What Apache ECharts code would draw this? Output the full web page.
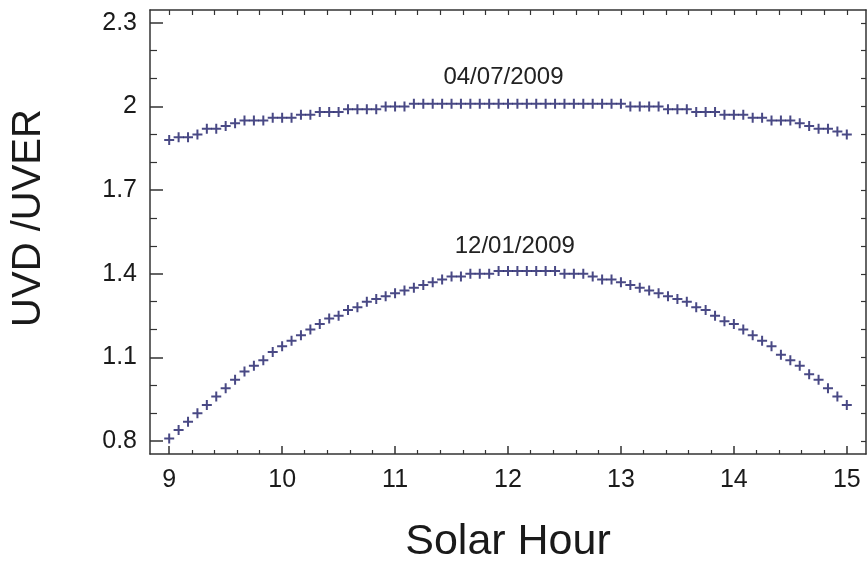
<!DOCTYPE html>
<html>
<head>
<meta charset="utf-8">
<style>
html, body { margin: 0; padding: 0; background: #fff; }
#chart { width: 868px; height: 569px; }
</style>
<script src="https://cdn.jsdelivr.net/npm/echarts@6/dist/echarts.min.js"></script>
</head>
<body>
<div id="chart"></div>
<script>
// solar time of each reading (every 5 min)
var times = [
  '9:00', '9:05', '9:10', '9:15', '9:20', '9:25', '9:30', '9:35', '9:40', '9:45', '9:50', '9:55',
  '10:00', '10:05', '10:10', '10:15', '10:20', '10:25', '10:30', '10:35', '10:40', '10:45', '10:50', '10:55',
  '11:00', '11:05', '11:10', '11:15', '11:20', '11:25', '11:30', '11:35', '11:40', '11:45', '11:50', '11:55',
  '12:00', '12:05', '12:10', '12:15', '12:20', '12:25', '12:30', '12:35', '12:40', '12:45', '12:50', '12:55',
  '13:00', '13:05', '13:10', '13:15', '13:20', '13:25', '13:30', '13:35', '13:40', '13:45', '13:50', '13:55',
  '14:00', '14:05', '14:10', '14:15', '14:20', '14:25', '14:30', '14:35', '14:40', '14:45', '14:50', '14:55',
  '15:00'
];

// 04/07/2009
var july = [
  1.88, 1.89, 1.89, 1.90, 1.92, 1.92, 1.93, 1.94, 1.95, 1.95, 1.95, 1.96,
  1.96, 1.96, 1.97, 1.97, 1.98, 1.98, 1.98, 1.99, 1.99, 1.99, 1.99, 2.00,
  2.00, 2.00, 2.01, 2.01, 2.01, 2.01, 2.01, 2.01, 2.01, 2.01, 2.01, 2.01,
  2.01, 2.01, 2.01, 2.01, 2.01, 2.01, 2.01, 2.01, 2.01, 2.01, 2.01, 2.01,
  2.01, 2.00, 2.00, 2.00, 2.00, 1.99, 1.99, 1.99, 1.98, 1.98, 1.98, 1.97,
  1.97, 1.97, 1.96, 1.96, 1.95, 1.95, 1.95, 1.94, 1.93, 1.92, 1.92, 1.91,
  1.90
];

// 12/01/2009
var jan = [
  0.81, 0.84, 0.87, 0.90, 0.93, 0.96, 0.99, 1.02, 1.05, 1.07, 1.09, 1.12,
  1.14, 1.16, 1.18, 1.20, 1.22, 1.24, 1.25, 1.27, 1.28, 1.30, 1.31, 1.32,
  1.33, 1.34, 1.35, 1.36, 1.37, 1.38, 1.39, 1.39, 1.40, 1.40, 1.40, 1.41,
  1.41, 1.41, 1.41, 1.41, 1.41, 1.41, 1.40, 1.40, 1.40, 1.39, 1.38, 1.38,
  1.37, 1.36, 1.35, 1.34, 1.33, 1.32, 1.31, 1.30, 1.28, 1.27, 1.25, 1.23,
  1.22, 1.20, 1.18, 1.16, 1.14, 1.11, 1.09, 1.07, 1.04, 1.02, 0.99, 0.96,
  0.93
];

var xTicks = [9, 10, 11, 12, 13, 14, 15];
var yTicks = [0.8, 1.1, 1.4, 1.7, 2, 2.3];
var notes = [
  ['04/07/2009', 11.96, 2.105],
  ['12/01/2009', 12.06, 1.50]
];

var X_MIN = 8.83, X_MAX = 15.17;
var Y_MIN = 0.754, Y_MAX = 2.346;

function toHour(t) {
  var p = t.split(':');
  return Number(p[0]) + Number(p[1]) / 60;
}
function pairs(vals) {
  return vals.map(function (v, i) { return [toHour(times[i]), v]; });
}

// tick helpers
var xMinor = [], xAll = [], yMinor = [], yAll = [];
for (var k = 45; k <= 75; k++) {
  var v = Math.round(k * 0.2 * 10) / 10;
  xAll.push(v);
  if (k % 5) xMinor.push(v);
}
for (var k = 8; k <= 23; k++) {
  var v = k / 10;
  yAll.push(v);
  if ((k - 8) % 3) yMinor.push(v);
}

var frame = { show: true, onZero: false, lineStyle: { color: '#333', width: 1.5 } };
var font = 'Liberation Sans, Arial, sans-serif';
var plus = 'path://M4,0H6V4H10V6H6V10H4V6H0V4H4Z';

function noteMark(n) {
  return {
    symbol: 'rect',
    symbolSize: 1,
    itemStyle: { color: 'rgba(0,0,0,0)' },
    label: { show: true, position: 'inside', formatter: '{b}', fontFamily: font, fontSize: 24, color: '#222' },
    data: [{ name: n[0], coord: [n[1], n[2]] }]
  };
}

var chart = echarts.init(document.getElementById('chart'));
var option = {
  animation: false,
  backgroundColor: '#fff',
  grid: { left: 150, right: 2, top: 10, bottom: 112 },
  graphic: [{
    type: 'text', x: 29, y: 218, rotation: Math.PI / 2,
    style: { text: 'UVD /UVER', fontFamily: font, fontSize: 40, fill: '#1a1a1a', align: 'center', verticalAlign: 'middle' }
  }],
  xAxis: [
    {
      type: 'value', position: 'bottom', min: X_MIN, max: X_MAX,
      axisLine: frame,
      axisTick: { show: true, inside: true, length: 8, customValues: xTicks, lineStyle: { color: '#333', width: 1.5 } },
      axisLabel: { customValues: xTicks, fontFamily: font, fontSize: 25, color: '#1a1a1a', margin: 14 },
      splitLine: { show: false },
      name: 'Solar Hour', nameLocation: 'middle', nameGap: 67,
      nameTextStyle: { fontFamily: font, fontSize: 43, color: '#1a1a1a' }
    },
    {
      type: 'value', position: 'bottom', min: X_MIN, max: X_MAX,
      axisLine: { show: false },
      axisTick: { show: true, inside: true, length: 4, customValues: xMinor, lineStyle: { color: '#333', width: 1.2 } },
      axisLabel: { show: false }, splitLine: { show: false }
    },
    {
      type: 'value', position: 'top', min: X_MIN, max: X_MAX,
      axisLine: frame,
      axisTick: { show: true, inside: true, length: 5, customValues: xAll, lineStyle: { color: '#333', width: 1.2 } },
      axisLabel: { show: false }, splitLine: { show: false }
    }
  ],
  yAxis: [
    {
      type: 'value', position: 'left', min: Y_MIN, max: Y_MAX,
      axisLine: frame,
      axisTick: { show: true, inside: true, length: 13, customValues: yTicks, lineStyle: { color: '#333', width: 1.5 } },
      axisLabel: { customValues: yTicks, fontFamily: font, fontSize: 25, color: '#1a1a1a', margin: 13 },
      splitLine: { show: false }
    },
    {
      type: 'value', position: 'left', min: Y_MIN, max: Y_MAX,
      axisLine: { show: false },
      axisTick: { show: true, inside: true, length: 7, customValues: yMinor, lineStyle: { color: '#333', width: 1.2 } },
      axisLabel: { show: false }, splitLine: { show: false }
    },
    {
      type: 'value', position: 'right', min: Y_MIN, max: Y_MAX,
      axisLine: frame,
      axisTick: { show: true, inside: true, length: 5, customValues: yAll, lineStyle: { color: '#333', width: 1.2 } },
      axisLabel: { show: false }, splitLine: { show: false }
    }
  ],
  series: [
    {
      name: '04/07/2009', type: 'scatter', data: pairs(july),
      symbol: plus, symbolSize: 10, itemStyle: { color: '#1c1c66' },
      markPoint: noteMark(notes[0])
    },
    {
      name: '12/01/2009', type: 'scatter', data: pairs(jan),
      symbol: plus, symbolSize: 10, itemStyle: { color: '#1c1c66' },
      markPoint: noteMark(notes[1])
    }
  ]
};
chart.setOption(option);
</script>
</body>
</html>
